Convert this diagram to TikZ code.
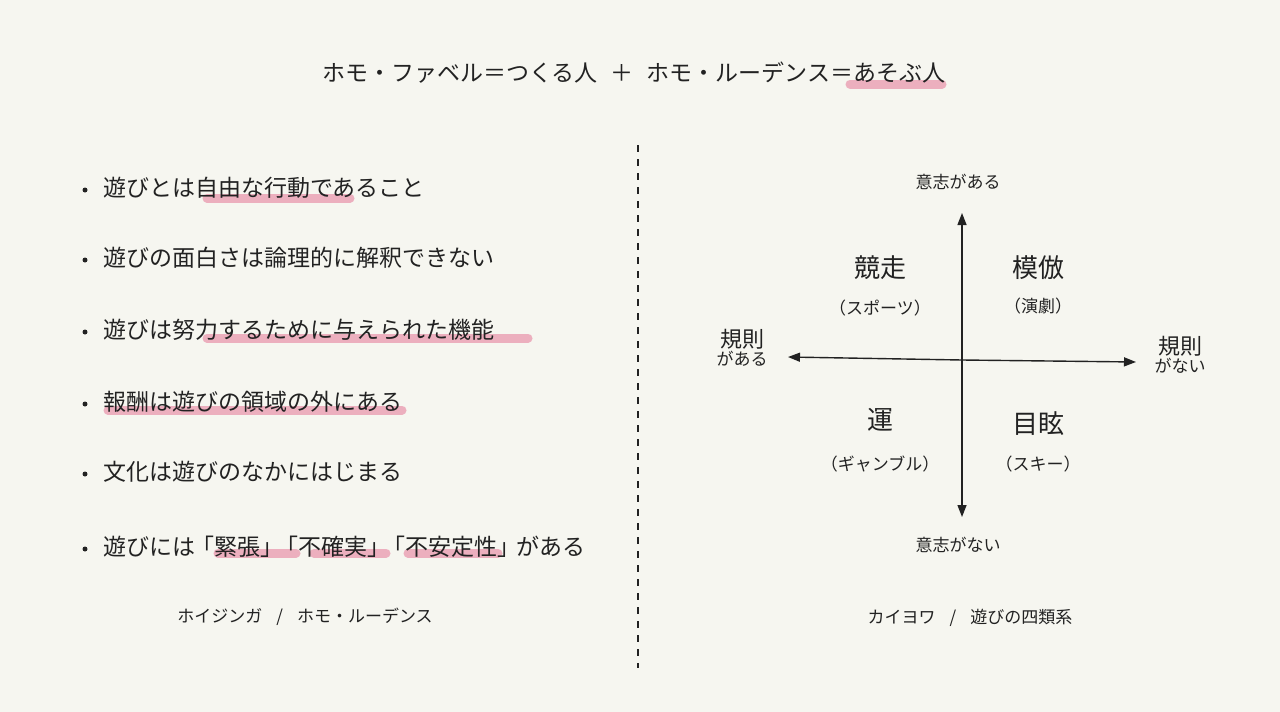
\documentclass[tikz,border=0pt]{standalone}
\usepackage{fontspec}
\setmainfont{Noto Sans CJK JP}
\usetikzlibrary{arrows.meta}
\definecolor{bg}{HTML}{F6F6F0}
\definecolor{hl}{HTML}{EBA3B6}
\definecolor{ink}{HTML}{222222}
\tikzset{
 txt/.style={anchor=west,inner sep=0pt,text=ink,font=\fontsize{23}{26}\selectfont},
 big/.style={inner sep=0pt,text=ink,font=\fontsize{26}{30}\selectfont},
 small/.style={inner sep=0pt,text=ink,font=\fontsize{17}{20}\selectfont},
 hlmark/.style={line width=9pt,hl,line cap=round,opacity=0.85},
 dot/.style={circle,fill=ink,inner sep=0pt,minimum size=5pt},
 axis/.style={line width=1.4pt,ink,-{Triangle[length=12pt,width=9pt]}}
}
\begin{document}
\begin{tikzpicture}[x=1pt,y=-1pt]
\fill[bg] (0,0) rectangle (1280,712);
\useasboundingbox (0,0) rectangle (1280,712);
% highlights
\draw[hlmark] (850,84) -- (942,84);
\draw[hlmark] (207,198) -- (350,198);
\draw[hlmark] (207,338) -- (528,338);
\draw[hlmark] (108,410) -- (402,410);
\draw[hlmark] (218,553) -- (296,553);
\draw[hlmark] (314,553) -- (386,553);
\draw[hlmark] (408,553) -- (498,553);
% title
\node[txt] (title) at (322,73) {ホモ・ファベル＝つくる人\hspace{13pt}＋\hspace{13pt}ホモ・ルーデンス＝あそぶ人};
% bullets
\foreach \y/\t [count=\i] in {188/遊びとは自由な行動であること,
 258/遊びの面白さは論理的に解釈できない,
 330/遊びは努力するために与えられた機能,
 402/報酬は遊びの領域の外にある,
 472/文化は遊びのなかにはじまる,
 547/遊びには{\hspace{-4pt}「緊張」\hspace{-8pt}「不確実」\hspace{-8pt}「不安定性」\hspace{-4pt}}がある}{
 \node[dot] (d\i) at (85,\y+2) {};
 \node[txt] (b\i) at (103,\y) {\t};
}
\node[small] (capl) at (305,617) {ホイジンガ\hspace{14pt}/\hspace{14pt}ホモ・ルーデンス};
% divider
\coordinate (dv1) at (638,145); \coordinate (dv2) at (638,668);
\draw[ink,line width=1.2pt,dash pattern=on 7pt off 7pt] (dv1) -- (dv2);
% axes
\coordinate (c) at (962,360);
\coordinate (top) at (962,213); \coordinate (bot) at (962,517);
\coordinate (lft) at (788,357); \coordinate (rgt) at (1136,362);
\draw[axis] (c) -- (top);
\draw[axis] (c) -- (bot);
\draw[axis] (c) -- (lft);
\draw[axis] (c) -- (rgt);
\node[small] (t1) at (958,182) {意志がある};
\node[small] (t2) at (958,545) {意志がない};
\node[small,align=center] (t3) at (742,348) {\fontsize{22}{26}\selectfont 規則\\[-2pt]\fontsize{17}{20}\selectfont がある};
\node[small,align=center] (t4) at (1180,355) {\fontsize{22}{26}\selectfont 規則\\[-2pt]\fontsize{17}{20}\selectfont がない};
\node[big] (q1) at (880,268) {競走};
\node[small] (q1s) at (880,308) {（スポーツ）};
\node[big] (q2) at (1038,268) {模倣};
\node[small] (q2s) at (1038,306) {（演劇）};
\node[big] (q3) at (880,420) {運};
\node[small] (q3s) at (880,464) {（ギャンブル）};
\node[big] (q4) at (1038,424) {目眩};
\node[small] (q4s) at (1038,464) {（スキー）};
\node[small] (capr) at (970,618) {カイヨワ\hspace{14pt}/\hspace{14pt}遊びの四類系};
\end{tikzpicture}
\end{document}
